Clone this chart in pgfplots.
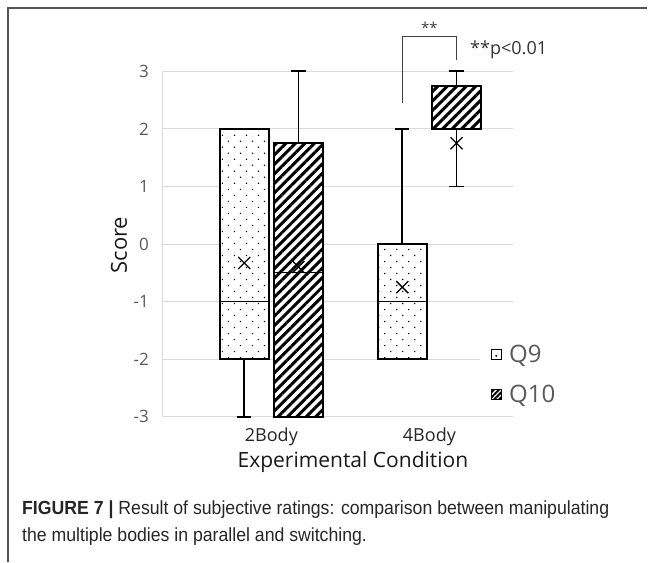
\documentclass[border=0pt]{standalone}
\usepackage{pgfplots}
\pgfplotsset{compat=1.18}
\usepgfplotslibrary{statistics}
\usepackage{fontspec}
\setmainfont{Open Sans}
\newfontfamily\capfont[FakeStretch=0.93]{Liberation Sans}
\usetikzlibrary{patterns.meta}
\definecolor{tickgray}{HTML}{595959}
\definecolor{gridgray}{HTML}{D9D9D9}
\definecolor{framegray}{HTML}{555555}
\tikzset{
  dotpat/.style={pattern={Dots[distance=8.5pt,angle=45,radius=0.85pt]}, pattern color=black},
  hatchpat/.style={pattern={Lines[angle=45,distance=6.7pt,line width=3pt]}, pattern color=black},
}
\pgfplotsset{
  q9/.style={draw=black, line width=2pt, solid, mark=none,
    boxplot/every box/.style={fill=white, line width=2pt, postaction={dotpat}},
    boxplot/every whisker/.style={line width=1.7pt},
    boxplot/every median/.style={line width=1.2pt}},
  q10/.style={draw=black, line width=2pt, solid, mark=none,
    boxplot/every box/.style={fill=white, line width=2pt, postaction={hatchpat}},
    boxplot/every whisker/.style={line width=1.7pt},
    boxplot/every median/.style={line width=1.2pt}},
}
\begin{document}
\begin{tikzpicture}[x=1pt,y=1pt]
\useasboundingbox (0,0) rectangle (655,-562);
\draw[line width=1.5pt, framegray] (8,-562) -- (8,-8) -- (647,-8);
\begin{axis}[
  at={(162pt,-416.7pt)}, anchor=south west,
  scale only axis, width=351pt, height=345.4pt,
  xmin=-0.692, xmax=1.529, ymin=-3, ymax=3,
  clip=false,
  axis x line*=bottom, axis y line*=left,
  axis line style={-, draw=gridgray, line width=1pt},
  ymajorgrids, grid style={draw=gridgray, line width=1pt},
  ytick={-3,-2,-1,0,1,2,3},
  xtick={0,1}, xticklabels={2Body,4Body},
  major tick length=0pt,
  /pgf/number format/assume math mode=true,
  yticklabel style={font=\fontsize{17}{17}\selectfont, text=tickgray, inner xsep=0pt, xshift=-13pt},
  xticklabel style={font=\fontsize{18}{18}\selectfont, text=black!85, inner sep=0pt, anchor=north, yshift=-10.5pt},
  xlabel={Experimental Condition},
  xlabel style={font=\fontsize{21}{21}\selectfont, text=black!90, at={(axis description cs:0.544,0)}, anchor=center, yshift=-45pt},
  ylabel={Score},
  ylabel style={font=\fontsize{22}{22}\selectfont, text=black!90, at={(axis description cs:-0.1225,0.497)}, anchor=center},
  boxplot/draw direction=y,
  boxplot/box extend=0.307,
  boxplot/whisker extend=0.09,
  legend style={at={(0.906,0.22)}, anchor=north west, draw=none, fill=white,
    inner xsep=10pt, inner ysep=2pt, row sep=17pt,
    font=\fontsize{24}{24}\selectfont, text=tickgray,
    /tikz/every odd column/.append style={column sep=5pt}},
  legend cell align=left,
]
% 2Body Q9
\addplot[q9, forget plot, boxplot prepared={draw position=-0.1715,
  lower whisker=-3, lower quartile=-2, median=-1, upper quartile=2, upper whisker=2}]
  coordinates {};
% 2Body Q10
\addplot[q10, forget plot, boxplot prepared={draw position=0.1715,
  lower whisker=-3, lower quartile=-3, median=-0.5, upper quartile=1.75, upper whisker=3}]
  coordinates {};
% 4Body Q9
\addplot[q9, forget plot, boxplot prepared={draw position=0.8285,
  lower whisker=-2, lower quartile=-2, median=-1, upper quartile=0, upper whisker=2}]
  coordinates {};
% 4Body Q10
\addplot[q10, forget plot, boxplot prepared={draw position=1.1715,
  lower whisker=1, lower quartile=2, median=2, upper quartile=2.75, upper whisker=3}]
  coordinates {};
% means
\addplot[forget plot, only marks, mark=x, mark size=8.5pt, mark options={line width=1.3pt, draw=black}]
  coordinates {(-0.1715,-0.33) (0.1715,-0.4) (0.8285,-0.75) (1.1715,1.75)};
% significance
\draw[line width=0.9pt, black!75] (axis cs:0.8285,2.45) |- (axis cs:1.1715,3.61) -- (axis cs:1.1715,3.2);
\node[font=\fontsize{15}{15}\selectfont, text=black!75] at (axis cs:1.0,3.75) {**};
\node[font=\fontsize{18}{18}\selectfont, text=black!80, anchor=west, inner sep=0pt] at (axis cs:1.257,3.37) {**p<0.01};
% legend
\addlegendimage{legend image code/.code={\draw[line width=0.8pt, fill=white] (0pt,-5pt) rectangle (10pt,5pt); \fill (5pt,-1.5pt) circle (0.8pt);}}
\addlegendentry{Q9}
\addlegendimage{legend image code/.code={\draw[line width=0.8pt, fill=white, postaction={pattern={Lines[angle=45,distance=3.5pt,line width=2pt]}}] (0pt,-5pt) rectangle (10pt,5pt);}}
\addlegendentry{Q10}
\end{axis}
\node[anchor=west, inner sep=0pt, font=\capfont\fontsize{19}{19}\selectfont, text=black!85] at (22,-510) {\textbf{FIGURE 7} \textbf{|} Result of subjective ratings: comparison between manipulating};
\node[anchor=west, inner sep=0pt, font=\capfont\fontsize{19}{19}\selectfont, text=black!85] at (22,-537) {the multiple bodies in parallel and switching.};
\end{tikzpicture}
\end{document}
